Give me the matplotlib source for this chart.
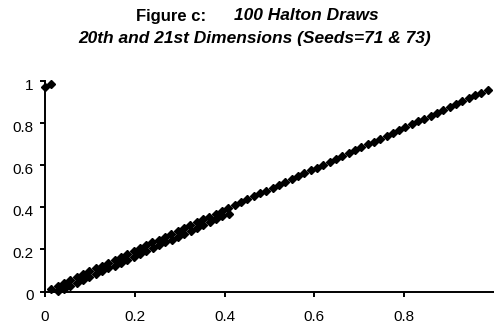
import matplotlib
matplotlib.use("Agg")
import matplotlib.pyplot as plt
import matplotlib.transforms as mtransforms

plt.rcParams['font.family'] = ['Liberation Sans', 'DejaVu Sans']

# Halton draws 1..100, prime 71 (20th dimension) and prime 73 (21st dimension)
x71 = [0.0141, 0.0282, 0.0423, 0.0563, 0.0704, 0.0845, 0.0986, 0.1127, 0.1268, 0.1408,
       0.1549, 0.1690, 0.1831, 0.1972, 0.2113, 0.2254, 0.2394, 0.2535, 0.2676, 0.2817,
       0.2958, 0.3099, 0.3239, 0.3380, 0.3521, 0.3662, 0.3803, 0.3944, 0.4085, 0.4225,
       0.4366, 0.4507, 0.4648, 0.4789, 0.4930, 0.5070, 0.5211, 0.5352, 0.5493, 0.5634,
       0.5775, 0.5915, 0.6056, 0.6197, 0.6338, 0.6479, 0.6620, 0.6761, 0.6901, 0.7042,
       0.7183, 0.7324, 0.7465, 0.7606, 0.7746, 0.7887, 0.8028, 0.8169, 0.8310, 0.8451,
       0.8592, 0.8732, 0.8873, 0.9014, 0.9155, 0.9296, 0.9437, 0.9577, 0.9718, 0.9859,
       0.0002,
       0.0143, 0.0284, 0.0425, 0.0565, 0.0706, 0.0847, 0.0988, 0.1129, 0.1270, 0.1410,
       0.1551, 0.1692, 0.1833, 0.1974, 0.2115, 0.2256, 0.2396, 0.2537, 0.2678, 0.2819,
       0.2960, 0.3101, 0.3241, 0.3382, 0.3523, 0.3664, 0.3805, 0.3946, 0.4087]
y73 = [0.0137, 0.0274, 0.0411, 0.0548, 0.0685, 0.0822, 0.0959, 0.1096, 0.1233, 0.1370,
       0.1507, 0.1644, 0.1781, 0.1918, 0.2055, 0.2192, 0.2329, 0.2466, 0.2603, 0.2740,
       0.2877, 0.3014, 0.3151, 0.3288, 0.3425, 0.3562, 0.3699, 0.3836, 0.3973, 0.4110,
       0.4247, 0.4384, 0.4521, 0.4658, 0.4795, 0.4932, 0.5068, 0.5205, 0.5342, 0.5479,
       0.5616, 0.5753, 0.5890, 0.6027, 0.6164, 0.6301, 0.6438, 0.6575, 0.6712, 0.6849,
       0.6986, 0.7123, 0.7260, 0.7397, 0.7534, 0.7671, 0.7808, 0.7945, 0.8082, 0.8219,
       0.8356, 0.8493, 0.8630, 0.8767, 0.8904, 0.9041, 0.9178, 0.9315, 0.9452, 0.9589,
       0.9726, 0.9863,
       0.0002,
       0.0139, 0.0276, 0.0413, 0.0550, 0.0687, 0.0824, 0.0961, 0.1098, 0.1235, 0.1372,
       0.1509, 0.1646, 0.1783, 0.1920, 0.2057, 0.2194, 0.2331, 0.2468, 0.2605, 0.2742,
       0.2879, 0.3016, 0.3153, 0.3290, 0.3427, 0.3564, 0.3701]

xticks = [0, 0.2, 0.4, 0.6, 0.8]
xtick_labels = ["0", "0.2", "0.4", "0.6", "0.8"]
yticks = [0, 0.2, 0.4, 0.6, 0.8, 1]
ytick_labels = ["0", "0.2", "0.4", "0.6", "0.8", "1"]

fig = plt.figure(figsize=(4.94, 3.26), dpi=100)
ax = fig.add_axes([0.0911, 0.1058, 0.9089, 0.6457])
ax.plot(x71, y73, linestyle='none', marker='D', markersize=3.6,
        color='black', clip_on=False)

ax.set_xlim(0, 1)
ax.set_ylim(0, 1)
ax.set_xticks(xticks)
ax.set_xticklabels(xtick_labels)
ax.set_yticks(yticks)
ax.set_yticklabels(ytick_labels)
for s in ['top', 'right']:
    ax.spines[s].set_visible(False)
for s in ['left', 'bottom']:
    ax.spines[s].set_linewidth(1.4)
ax.tick_params(axis='both', direction='out', length=3.6, width=1.4, labelsize=11)
ax.tick_params(axis='x', pad=10)
ax.tick_params(axis='y', pad=4.5)

# y labels sit a little below their ticks in the original
shift = mtransforms.ScaledTranslation(0, -3 / 100, fig.dpi_scale_trans)
for lab in ax.get_yticklabels():
    lab.set_transform(lab.get_transform() + shift)

fig.text(171 / 494, 1 - 16 / 326, "Figure c:", fontsize=12, fontweight='bold',
         ha='center', va='center')
fig.text(306 / 494, 1 - 16 / 326, "100 Halton Draws", fontsize=12.5,
         fontweight='bold', fontstyle='italic', ha='center', va='center')
fig.text(255 / 494, 1 - 38 / 326, "20th and 21st Dimensions (Seeds=71 & 73)",
         fontsize=12.5, fontweight='bold', fontstyle='italic',
         ha='center', va='center')

fig.savefig("out.png", dpi=100)
